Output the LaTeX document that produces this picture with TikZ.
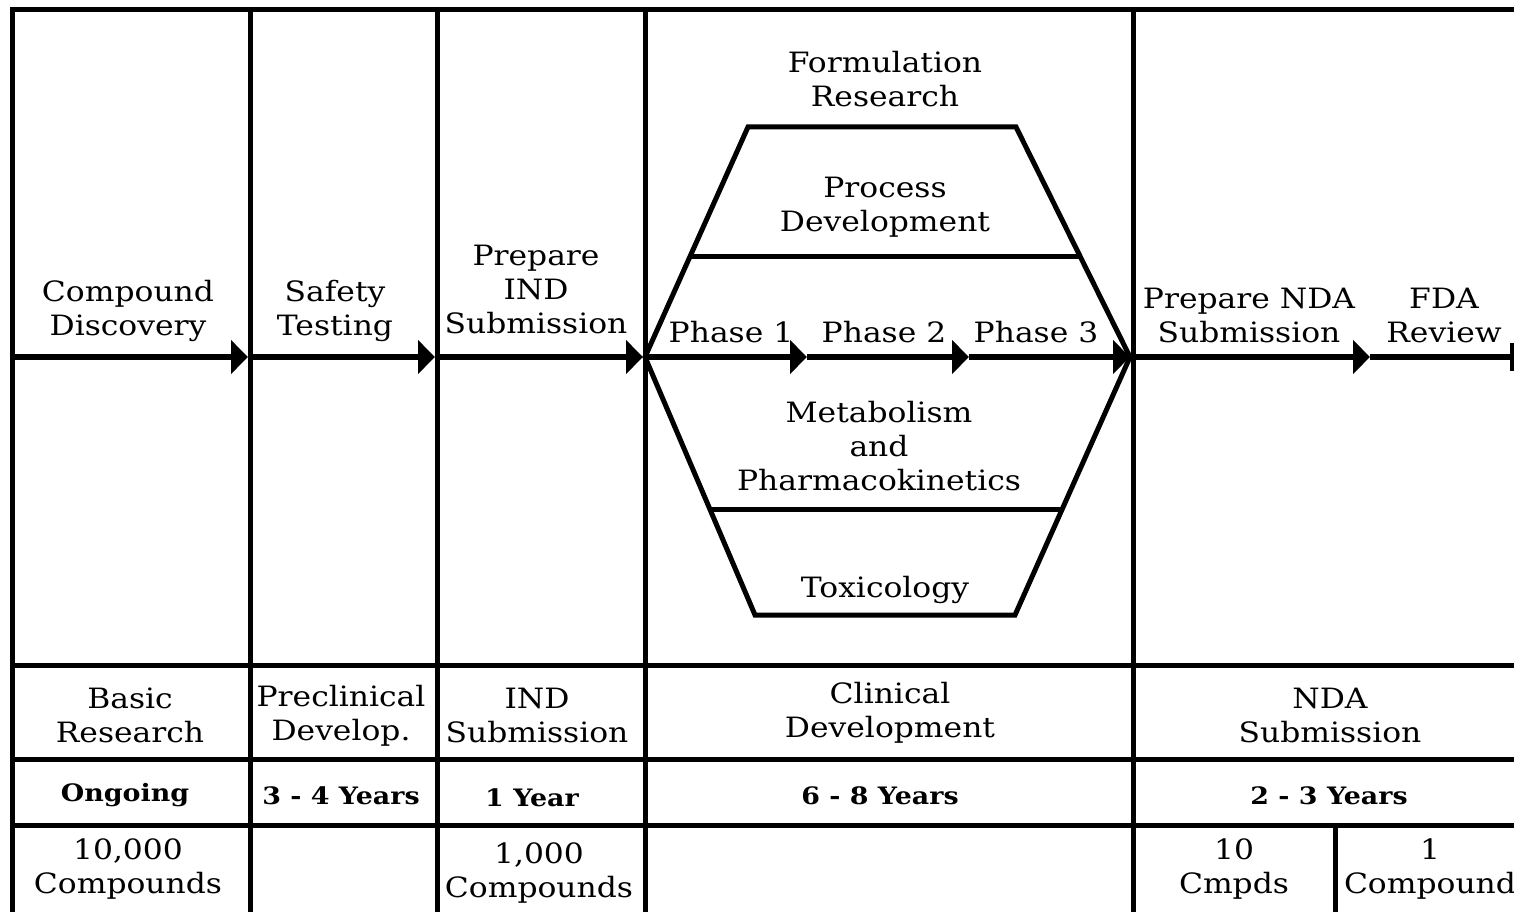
\documentclass[tikz,border=0pt]{standalone}
\usepackage{fontspec}
\setmainfont{DejaVu Serif}[FakeStretch=1.12]
\usetikzlibrary{arrows.meta,calc}

\tikzset{
  rule/.style={line width=5pt},
  flow/.style={line width=6pt, -{Triangle[length=17pt 0 0,width=33pt 0 0]}},
  % multi-line labels are placed by the baseline of their last line
  lbl/.style={font=\fontsize{28}{34}\selectfont, align=center, anchor=base, inner sep=0pt},
  yrs/.style={font=\fontsize{24}{34}\selectfont\bfseries, anchor=base, inner sep=0pt}
}

\begin{document}
\begin{tikzpicture}[x=1pt,y=-1pt]
\useasboundingbox (0,0) rectangle (1514,912);
\clip (0,0) rectangle (1514,912);

% outer frame and column rules
\draw[rule, line join=miter] (12,920) -- (12,10) -- (1520,10);
\foreach \x in {250,437,645,1133} \draw[rule] (\x,10) -- (\x,920);
\draw[rule] (1335,825) -- (1335,920);
\foreach \y in {665,759,825} \draw[rule] (12,\y) -- (1520,\y);

% development hexagon
\coordinate (hL)  at (645,357);
\coordinate (hTL) at (748,127);
\coordinate (hTR) at (1016,127);
\coordinate (hR)  at (1130,357);
\coordinate (hBR) at (1015,615);
\coordinate (hBL) at (755,615);
\draw[rule, line join=miter] (hL) -- (hTL) -- (hTR) -- (hR) -- (hBR) -- (hBL) -- cycle;
\draw[rule] ($(hL)!0.4348!(hTL)$) -- ($(hR)!0.4348!(hTR)$);
\draw[rule] ($(hL)!0.593!(hBL)$) -- ($(hR)!0.593!(hBR)$);

% main flow line
\coordinate (p0) at (12,357);
\coordinate (p1) at (248,357);
\coordinate (p2) at (435,357);
\coordinate (p3) at (643,357);
\coordinate (p4) at (807,357);
\coordinate (p5) at (969,357);
\coordinate (p6) at (1130,357);
\coordinate (p7) at (1370,357);
\coordinate (p8) at (1512,357);
\coordinate (e1) at (1512,343);
\coordinate (e2) at (1512,371);
\draw[flow] (p0) -- (p1);
\draw[flow] (p1) -- (p2);
\draw[flow] (p2) -- (p3);
\draw[flow] (p3) -- (p4);
\draw[flow] (p4) -- (p5);
\draw[flow] (p5) -- (p6);
\draw[flow] (p6) -- (p7);
\draw[line width=6pt] (p7) -- (p8);
\draw[line width=4pt] (e1) -- (e2);

% stage labels
\node[lbl] (cd)  at (128,335) {Compound\\Discovery};
\node[lbl] (st)  at (335,335) {Safety\\Testing};
\node[lbl] (pi)  at (536,333) {Prepare\\IND\\Submission};
\node[lbl] (fr)  at (885,107) {Formulation\\Research};
\node[lbl] (pd)  at (885,231) {Process\\Development};
\node[lbl] (ph1) at (731,342) {Phase 1};
\node[lbl] (ph2) at (884,342) {Phase 2};
\node[lbl] (ph3) at (1036,342) {Phase 3};
\node[lbl] (pn)  at (1249,342) {Prepare NDA\\Submission};
\node[lbl] (fda) at (1444,342) {FDA\\Review};
\node[lbl] (mp)  at (879,490) {Metabolism\\and\\Pharmacokinetics};
\node[lbl] (tx)  at (885,597) {Toxicology};

% phase names
\node[lbl] (br)  at (130,742) {Basic\\Research};
\node[lbl] (pcd) at (341,740) {Preclinical\\Develop.};
\node[lbl] (ind) at (537,742) {IND\\Submission};
\node[lbl] (cld) at (890,737) {Clinical\\Development};
\node[lbl] (nda) at (1330,742) {NDA\\Submission};

% durations
\node[yrs] (y1) at (125,801) {Ongoing};
\node[yrs] (y2) at (341,804) {3 - 4 Years};
\node[yrs] (y3) at (532,806) {1 Year};
\node[yrs] (y4) at (880,804) {6 - 8 Years};
\node[yrs] (y5) at (1329,804) {2 - 3 Years};

% compound counts
\node[lbl] (c1) at (128,893) {10,000\\Compounds};
\node[lbl] (c2) at (539,897) {1,000\\Compounds};
\node[lbl] (c3) at (1234,893) {10\\Cmpds};
\node[lbl] (c4) at (1430,893) {1\\Compound};
\end{tikzpicture}
\end{document}
